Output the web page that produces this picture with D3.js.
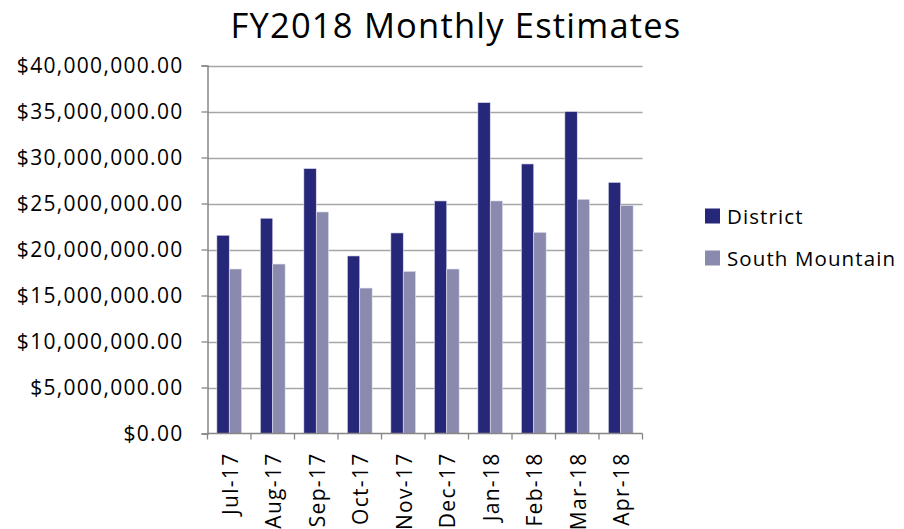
<!DOCTYPE html>
<html>
<head>
<meta charset="utf-8">
<script src="https://cdn.jsdelivr.net/npm/d3@7"></script>
<style>
  body { margin: 0; background: #fff; }
  text { font-family: "Open Sans", sans-serif; fill: #000; }
</style>
</head>
<body>
<svg id="chart" width="904" height="529"></svg>
<script>
const months = ['Jul-17', 'Aug-17', 'Sep-17', 'Oct-17', 'Nov-17', 'Dec-17', 'Jan-18', 'Feb-18', 'Mar-18', 'Apr-18']
const district = [21550000, 23400000, 28800000, 19300000, 21800000, 25280000, 35970000, 29300000, 35000000, 27300000]
const southMountain = [17880000, 18420000, 24080000, 15810000, 17630000, 17880000, 25280000, 21870000, 25460000, 24800000]
const seriesNames = ['District', 'South Mountain']
const yTicks = [0, 5e6, 10e6, 15e6, 20e6, 25e6, 30e6, 35e6, 40e6]

const colors = { District: '#27277a', 'South Mountain': '#8a8aae' }
const width = 904
const height = 529
const margin = { top: 65.5, left: 207.5, right: 904 - 642.5, bottom: 529 - 433.5 }

const svg = d3.select('#chart')

const x = d3.scaleBand()
  .domain(months)
  .range([margin.left, width - margin.right])
  .paddingInner(0.43)
  .paddingOuter(0.215)

const xSub = d3.scaleBand()
  .domain(seriesNames)
  .range([0, x.bandwidth()])

const y = d3.scaleLinear()
  .domain([0, 40e6])
  .range([height - margin.bottom, margin.top])

const fmt = v => '$' + d3.format(',.2f')(v)

// gridlines
svg.append('g')
  .selectAll('line')
  .data(yTicks.slice(1))
  .join('line')
  .attr('x1', margin.left)
  .attr('x2', width - margin.right)
  .attr('y1', d => Math.round(y(d)) + 0.5)
  .attr('y2', d => Math.round(y(d)) + 0.5)
  .attr('stroke', '#a6a6a6')
  .attr('stroke-width', 1.3)

// bars
const rows = months.map((m, i) => ({ month: m, values: [
  { key: 'District', value: district[i] },
  { key: 'South Mountain', value: southMountain[i] }
]}))

svg.append('g')
  .selectAll('g')
  .data(rows)
  .join('g')
  .attr('transform', d => `translate(${x(d.month)},0)`)
  .selectAll('rect')
  .data(d => d.values)
  .join('rect')
  .attr('x', d => xSub(d.key))
  .attr('y', d => y(d.value))
  .attr('width', xSub.bandwidth())
  .attr('height', d => y(0) - y(d.value))
  .attr('fill', d => colors[d.key])
  .attr('stroke', '#e4e4f0')
  .attr('stroke-width', 0.6)

// y axis
const yAxis = svg.append('g')
  .attr('transform', `translate(${margin.left},0)`)
  .call(d3.axisLeft(y).tickValues(yTicks).tickFormat(fmt).tickSize(6).tickPadding(18))
yAxis.select('.domain').attr('stroke', '#868686').attr('stroke-width', 1.5)
yAxis.selectAll('.tick line').attr('stroke', '#868686').attr('stroke-width', 1.3)
yAxis.selectAll('text')
  .style('font-family', '"Open Sans", sans-serif')
  .style('font-size', '21px')
  .style('letter-spacing', '1.3px')
  .attr('fill', '#000')

// x axis
const xTickPos = months.map((m, i) => margin.left + i * x.step()).concat([width - margin.right])
const xAxis = svg.append('g')
  .attr('transform', `translate(0,${y(0)})`)
xAxis.append('line')
  .attr('x1', margin.left).attr('x2', width - margin.right)
  .attr('stroke', '#868686').attr('stroke-width', 1.5)
xAxis.selectAll('line.tk')
  .data(xTickPos)
  .join('line')
  .attr('class', 'tk')
  .attr('x1', d => d).attr('x2', d => d)
  .attr('y1', 0).attr('y2', 6)
  .attr('stroke', '#868686').attr('stroke-width', 1.3)
xAxis.selectAll('text')
  .data(months)
  .join('text')
  .attr('transform', d => `translate(${x(d) + x.bandwidth() / 2 + 8.5},19) rotate(-90)`)
  .attr('text-anchor', 'end')
  .style('font-size', '21px')
  .style('letter-spacing', '1.3px')
  .text(d => d)

// title
svg.append('text')
  .attr('x', 456)
  .attr('y', 37.5)
  .attr('text-anchor', 'middle')
  .style('font-size', '34.5px')
  .style('letter-spacing', '1.2px')
  .text('FY2018 Monthly Estimates')

// legend
const legend = svg.append('g')
  .attr('transform', 'translate(705,208.5)')
const li = legend.selectAll('g')
  .data(seriesNames)
  .join('g')
  .attr('transform', (d, i) => `translate(0,${i * 42})`)
li.append('rect')
  .attr('width', 15).attr('height', 15)
  .attr('fill', d => colors[d])
li.append('text')
  .attr('x', 22).attr('y', 15)
  .style('font-size', '20.5px')
  .style('letter-spacing', '1.1px')
  .text(d => d)
</script>
</body>
</html>
